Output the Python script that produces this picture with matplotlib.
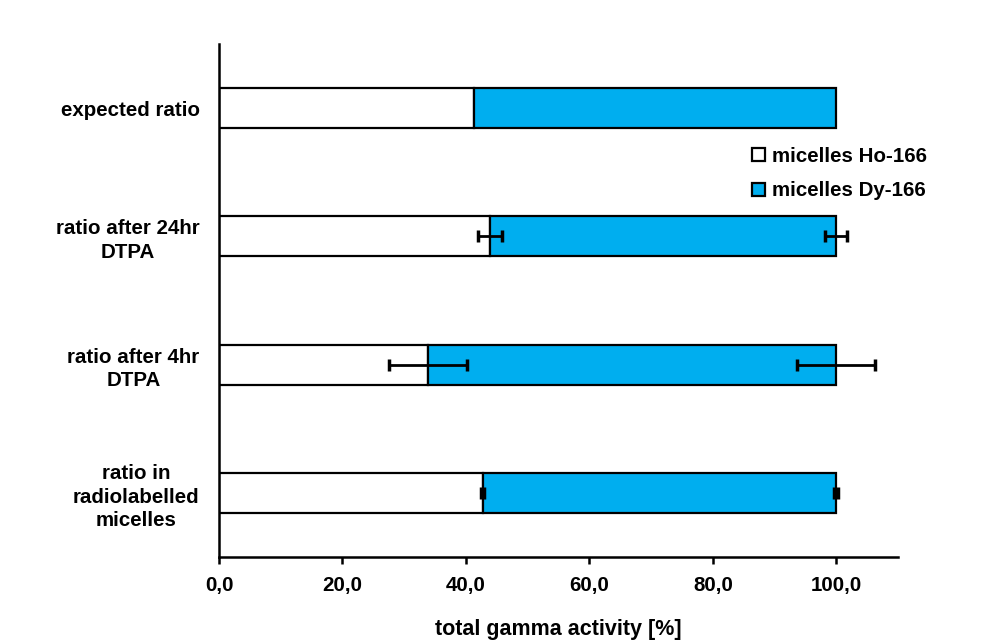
import matplotlib
matplotlib.use("Agg")
import matplotlib.pyplot as plt
import numpy as np

plt.rcParams['font.family'] = ['Liberation Sans', 'DejaVu Sans']
plt.rcParams['font.weight'] = 'bold'

categories = ["ratio in\nradiolabelled\nmicelles", "ratio after 4hr\nDTPA",
              "ratio after 24hr\nDTPA", "expected ratio"]
ho_values = [42.7, 33.9, 43.9, 41.3]
dy_values = [57.3, 66.1, 56.1, 58.7]
ho_err = [0.3, 6.3, 1.9, 0.0]
dy_err = [0.3, 6.3, 1.8, 0.0]
xticks = [0, 20, 40, 60, 80, 100]
xticklabels = ["0,0", "20,0", "40,0", "60,0", "80,0", "100,0"]

blue = "#00AEEF"
fs = 14.8

fig = plt.figure(figsize=(10.08, 6.44), dpi=100)
ax = fig.add_axes([219/1008, 1 - 557/644, (898-219)/1008, (557-44)/644])

y = np.arange(len(categories))
h = 0.31
ax.barh(y, ho_values, height=h, color="white", edgecolor="black", linewidth=1.6,
        label="micelles Ho-166", zorder=2)
ax.barh(y, dy_values, left=ho_values, height=h, color=blue, edgecolor="black",
        linewidth=1.6, label="micelles Dy-166", zorder=2)

totals = np.array(ho_values) + np.array(dy_values)
for i in range(len(categories)):
    if ho_err[i] > 0:
        ax.errorbar(ho_values[i], y[i], xerr=ho_err[i], fmt="none", ecolor="black",
                    elinewidth=2, capsize=4, capthick=2.5, zorder=3)
    if dy_err[i] > 0:
        ax.errorbar(totals[i], y[i], xerr=dy_err[i], fmt="none", ecolor="black",
                    elinewidth=2, capsize=4, capthick=2.5, zorder=3)

ax.set_xlim(0, 110)
ax.set_ylim(-0.5, 3.5)
ax.set_xticks(xticks)
ax.set_xticklabels(xticklabels, fontsize=fs, fontweight="bold")
ax.set_yticks(y)
ax.set_yticklabels(categories, fontsize=fs, fontweight="bold", multialignment="center",
                   linespacing=1.3)
ax.tick_params(axis="y", length=0, pad=14)
ax.tick_params(axis="x", length=5, width=1.8, direction="out", pad=9)
for s in ["top", "right"]:
    ax.spines[s].set_visible(False)
for s in ["left", "bottom"]:
    ax.spines[s].set_linewidth(1.8)

ax.set_xlabel("total gamma activity [%]", fontsize=15.5, fontweight="bold", labelpad=17)

leg = ax.legend(loc="upper left", bbox_to_anchor=((752-219)/(898-219), 1 - (147-44)/(557-44)),
                frameon=False, fontsize=fs, handlelength=0.62, handleheight=0.62,
                handletextpad=0.35, labelspacing=0.75, borderaxespad=0, borderpad=0)
for t in leg.get_texts():
    t.set_fontweight("bold")

fig.savefig("out.png", dpi=100)
